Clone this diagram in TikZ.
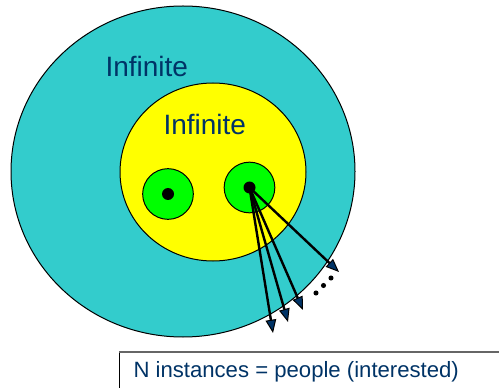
\documentclass[tikz,border=0pt]{standalone}
\usepackage{fontspec}
\setmainfont{Liberation Sans}
\usetikzlibrary{arrows.meta}

\definecolor{setcyan}{HTML}{33CCCC}
\definecolor{setyellow}{HTML}{FFFF00}
\definecolor{setgreen}{HTML}{00FF00}
\definecolor{setnavy}{HTML}{003366}

\tikzset{every picture/.style={line width=0.75pt}}
\tikzset{
  setlabel/.style={anchor=base west,inner sep=0pt,text=setnavy,font=\fontsize{21}{25}\selectfont},
  instance/.style={circle,draw=black,fill=setgreen,minimum size=38pt,inner sep=0pt},
  core/.style={circle,fill=black,minimum size=9pt,inner sep=0pt},
  dotmark/.style={circle,fill=black,minimum size=3.8pt,inner sep=0pt},
  pick/.style={line width=1.8pt,-{Triangle[length=10pt,width=8pt,fill=setnavy,line width=0.75pt]}},
}

\begin{document}
\begin{tikzpicture}[x=0.75pt,y=0.75pt,yscale=-1,xscale=1]
		\useasboundingbox (0,0) rectangle (499,388);
		\clip (0,0) rectangle (499,388);
		
		%Outer set
		\draw [fill=setcyan] (183,171.5) ellipse [x radius=172, y radius=165.5];
		%Inner set
		\draw [fill=setyellow] (213,172) ellipse [x radius=93, y radius=89];
		
		% Text Node
		\node [setlabel] (outerlbl) at (105,77) {Infinite};
		% Text Node
		\node [setlabel] (innerlbl) at (163,135) {Infinite};
		
		%Instances
		\node [instance] (left) at (168,194) {};
		\node [instance] (right) at (249.5,187.5) {};
		\node [core] (leftcore) at (left.center) {};
		
		%Arrow ends
		\coordinate (p1) at (273,333);
		\coordinate (p2) at (288,322);
		\coordinate (p3) at (303,310);
		\coordinate (p4) at (339,272);
		\draw [pick] (right.center) -- (p1);
		\draw [pick] (right.center) -- (p2);
		\draw [pick] (right.center) -- (p3);
		\draw [pick] (right.center) -- (p4);
		\node [core] (rightcore) at (right.center) {};
		
		%Dots
		\node [dotmark] (d1) at (316,293) {};
		\node [dotmark] (d2) at (323.5,285.5) {};
		\node [dotmark] (d3) at (331,278) {};
		
		%Caption box
		\node [anchor=north west,draw=black,inner sep=0pt,minimum width=400pt,minimum height=40pt] (capbox) at (119,352) {};
		\draw [draw=gray!80!black,line width=1.5pt] (capbox.north west) -- (capbox.north east);
		% Text Node
		\node [anchor=base west,inner sep=0pt,text=setnavy,font=\fontsize{16.6}{20}\selectfont] (caption) at (133,377) {N instances = people (interested)};
		
\end{tikzpicture}
\end{document}
